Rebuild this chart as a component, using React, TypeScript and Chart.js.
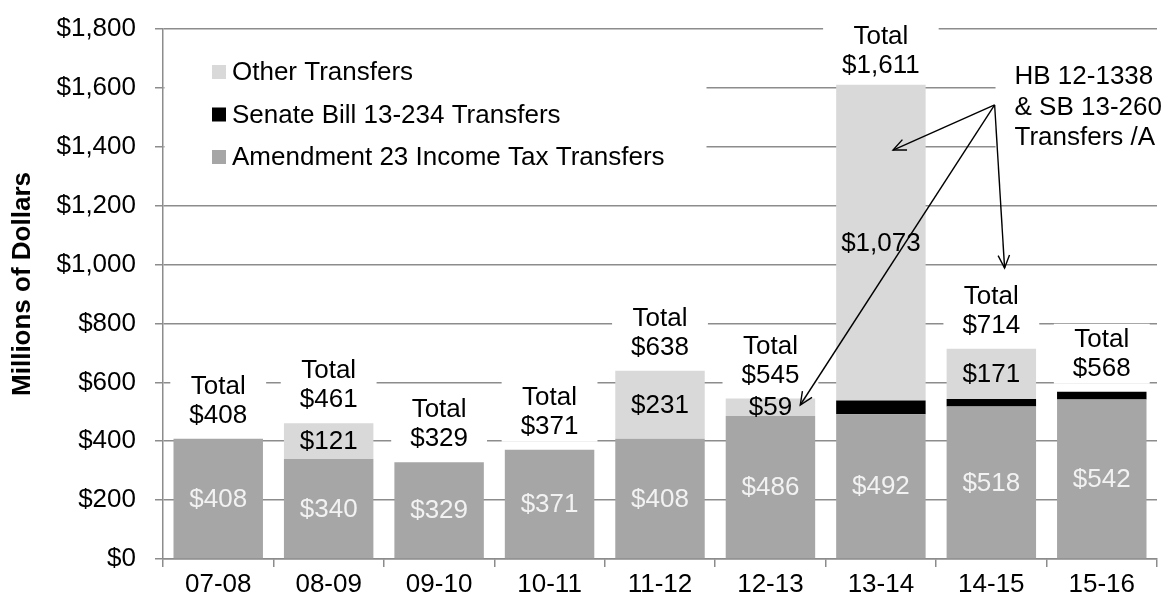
import React, { useEffect, useRef } from "react";
import { Chart, registerables } from "chart.js";

Chart.register(...registerables);

const categories = ["07-08", "08-09", "09-10", "10-11", "11-12", "12-13", "13-14", "14-15", "15-16"];
const amendment23 = [408, 340, 329, 371, 408, 486, 492, 518, 542];
const senateBill = [0, 0, 0, 0, 0, 0, 46, 25, 26];
const otherTransfers = [0, 121, 0, 0, 231, 59, 1073, 171, 0];
const totals = [408, 461, 329, 371, 638, 545, 1611, 714, 568];

const seriesNames = ["Amendment 23 Income Tax Transfers", "Senate Bill 13-234 Transfers", "Other Transfers"];
const legendOrder = [2, 1, 0];
const yAxisTitle = "Millions of Dollars";
const noteLines = ["HB 12-1338", "& SB 13-260", "Transfers /A"];
// arrow positions in (category index, value) units
const arrowFrom: [number, number] = [7.03, 1542];
const arrowTargets: [number, number][] = [
  [6.11, 1389],
  [5.27, 523],
  [7.12, 988],
];
const noteAnchor: [number, number] = [7.21, 1637];

const COLORS = ["#a6a6a6", "#000000", "#d9d9d9"];
const GRID = "#8c8c8c";
const FONT = '"Liberation Sans", Arial, sans-serif';
const FS = 26;

const fmt = (v: number) => "$" + v.toLocaleString("en-US");

const overlayPlugin = {
  id: "overlay",
  afterDatasetsDraw(chart: any) {
    const { ctx, chartArea } = chart;
    const xs = chart.scales.x;
    const ys = chart.scales.y;
    ctx.save();
    ctx.font = `${FS}px ${FONT}`;
    ctx.textAlign = "center";
    ctx.textBaseline = "middle";

    // segment labels
    [0, 2].forEach((di) => {
      const meta = chart.getDatasetMeta(di);
      const data = chart.data.datasets[di].data as number[];
      meta.data.forEach((bar: any, j: number) => {
        if (!data[j]) return;
        ctx.fillStyle = di === 0 ? "#f2f2f2" : "#000";
        ctx.fillText(fmt(data[j]), bar.x, (bar.y + bar.base) / 2 + 1);
      });
    });

    // total labels with white boxes
    totals.forEach((t, j) => {
      const x = xs.getPixelForValue(j);
      const top = ys.getPixelForValue(t);
      const y2 = Math.max(top - 23, 66);
      const y1 = y2 - 29;
      const w = Math.max(ctx.measureText("Total").width, ctx.measureText(fmt(t)).width) + 38;
      ctx.fillStyle = "#fff";
      ctx.fillRect(x - w / 2, y1 - 16, w, 60);
      ctx.fillStyle = "#000";
      ctx.fillText("Total", x, y1);
      ctx.fillText(fmt(t), x, y2);
    });

    // legend box
    ctx.fillStyle = "#fff";
    ctx.fillRect(chartArea.left + 1.5, chartArea.top + 9, 705 - chartArea.left, 155);
    ctx.textAlign = "left";
    legendOrder.forEach((si, k) => {
      const cy = chartArea.top + 43 + k * 42.5;
      const sx = chartArea.left + 49;
      ctx.fillStyle = COLORS[si];
      ctx.fillRect(sx, cy - 7, 14, 14);
      ctx.fillStyle = "#000";
      ctx.fillText(seriesNames[si], sx + 20, cy + 1);
    });

    // note box and text
    const nx = xs.getPixelForValue(noteAnchor[0]);
    const ny = ys.getPixelForValue(noteAnchor[1]);
    ctx.fillStyle = "#fff";
    ctx.fillRect(nx - 19, ny - 25, chartArea.right - nx + 19, 112);
    ctx.fillStyle = "#000";
    noteLines.forEach((line, k) => ctx.fillText(line, nx, ny + k * 30.5));

    // arrows
    const fx = xs.getPixelForValue(arrowFrom[0]);
    const fy = ys.getPixelForValue(arrowFrom[1]);
    ctx.strokeStyle = "#000";
    ctx.lineWidth = 1.4;
    arrowTargets.forEach(([ti, tv]) => {
      const tx = xs.getPixelForValue(ti);
      const ty = ys.getPixelForValue(tv);
      ctx.beginPath();
      ctx.moveTo(fx, fy);
      ctx.lineTo(tx, ty);
      ctx.stroke();
      const ang = Math.atan2(ty - fy, tx - fx);
      const L = 14;
      const a = 0.42;
      ctx.beginPath();
      ctx.moveTo(tx - L * Math.cos(ang - a), ty - L * Math.sin(ang - a));
      ctx.lineTo(tx, ty);
      ctx.lineTo(tx - L * Math.cos(ang + a), ty - L * Math.sin(ang + a));
      ctx.stroke();
    });

    // y axis title
    ctx.save();
    ctx.translate(23, 284);
    ctx.rotate(-Math.PI / 2);
    ctx.textAlign = "center";
    ctx.font = `bold ${FS}px ${FONT}`;
    ctx.fillStyle = "#000";
    ctx.fillText(yAxisTitle, 0, 0);
    ctx.restore();

    ctx.restore();
  },
};

export default function App() {
  const ref = useRef<HTMLCanvasElement>(null);
  useEffect(() => {
    document.body.style.margin = "0";
    const chart = new Chart(ref.current as HTMLCanvasElement, {
      type: "bar",
      data: {
        labels: categories,
        datasets: [
          { label: seriesNames[0], data: amendment23, backgroundColor: COLORS[0] },
          { label: seriesNames[1], data: senateBill, backgroundColor: COLORS[1] },
          { label: seriesNames[2], data: otherTransfers, backgroundColor: COLORS[2] },
        ],
      },
      options: {
        responsive: false,
        animation: false,
        datasets: { bar: { barPercentage: 0.81, categoryPercentage: 1.0, borderWidth: 0 } },
        layout: { padding: { top: 29, right: 5, bottom: 0, left: 0 } },
        plugins: { legend: { display: false }, tooltip: { enabled: false } },
        scales: {
          x: {
            stacked: true,
            grid: { display: true, drawOnChartArea: false, drawTicks: true, tickLength: 8, color: GRID, lineWidth: 1.5, offset: true },
            border: { display: true, color: GRID, width: 1.5 },
            ticks: { color: "#000", font: { family: FONT, size: FS }, padding: 2 },
            afterFit: (s: any) => {
              s.height = 41;
              s.paddingLeft = 0;
              s.paddingRight = 0;
            },
          },
          y: {
            stacked: true,
            min: 0,
            max: 1800,
            ticks: { stepSize: 200, color: "#000", font: { family: FONT, size: FS }, padding: 19, callback: (v: any) => fmt(Number(v)) },
            grid: { color: GRID, lineWidth: 1.5, tickLength: 8 },
            border: { display: true, color: GRID, width: 1.5 },
            afterFit: (s: any) => {
              s.width = 163;
              s.paddingTop = 0;
              s.paddingBottom = 0;
            },
          },
        },
      },
      plugins: [overlayPlugin],
    });
    return () => chart.destroy();
  }, []);
  return (
    <div style={{ width: 1162, height: 600 }}>
      <canvas ref={ref} width={1162} height={600} style={{ display: "block" }} />
    </div>
  );
}
